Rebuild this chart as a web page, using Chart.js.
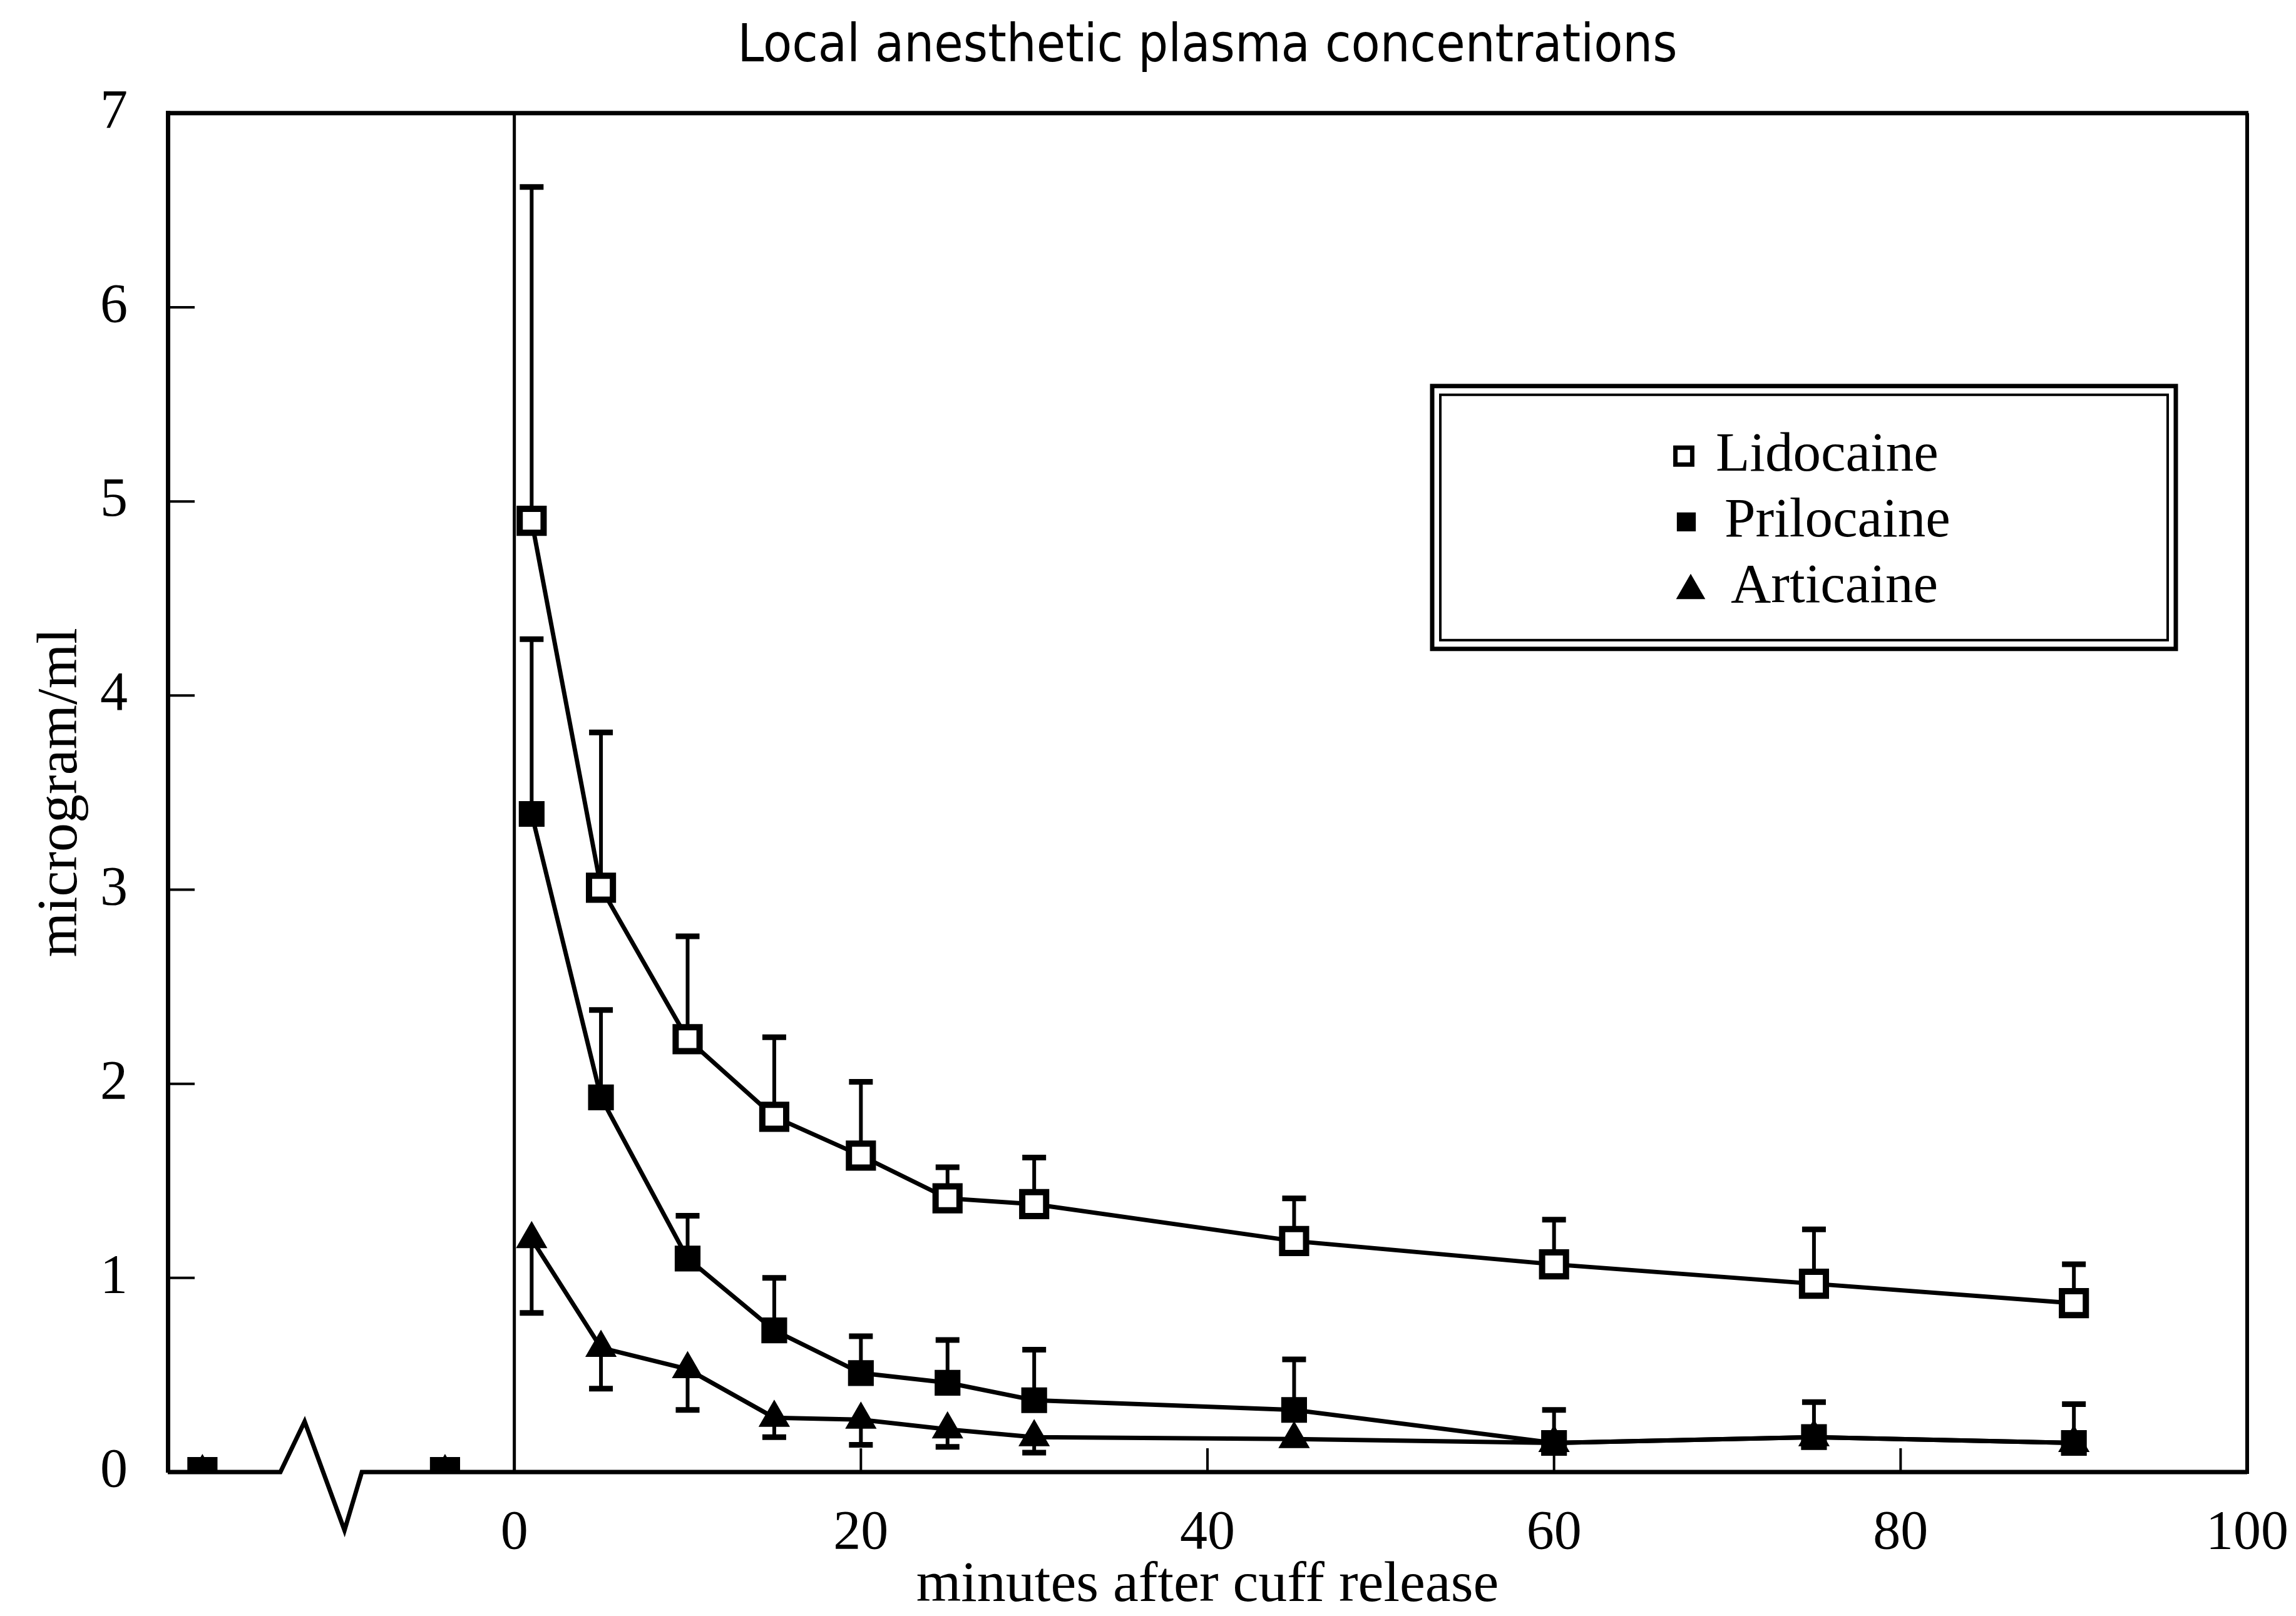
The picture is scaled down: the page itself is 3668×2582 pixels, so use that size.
<!DOCTYPE html>
<html><head><meta charset="utf-8">
<script src="https://cdn.jsdelivr.net/npm/chart.js@4/dist/chart.umd.min.js"></script>
<style>html,body{margin:0;padding:0;background:#fff}#wrap{width:3668px;height:2582px;position:relative}</style>
</head><body><div id="wrap"><canvas id="c"></canvas></div>
<script>
// ---- data ----
const minutes = [-18, -4, 1, 5, 10, 15, 20, 25, 30, 45, 60, 75, 90];
const lidocaine = [0, 0, 4.90, 3.01, 2.23, 1.83, 1.63, 1.41, 1.38, 1.19, 1.07, 0.97, 0.87];
const lidocaineErrUp = [null, null, 6.62, 3.81, 2.76, 2.24, 2.01, 1.57, 1.62, 1.41, 1.30, 1.25, 1.07];
const prilocaine = [0, 0, 3.39, 1.93, 1.10, 0.73, 0.51, 0.46, 0.37, 0.32, 0.15, 0.18, 0.15];
const prilocaineErrUp = [null, null, 4.29, 2.38, 1.32, 1.00, 0.70, 0.68, 0.63, 0.58, 0.32, 0.36, 0.35];
const articaine = [0, 0, 1.20, 0.64, 0.53, 0.28, 0.27, 0.22, 0.18, 0.17, 0.15, 0.18, 0.15];
const articaineErrDown = [null, null, 0.82, 0.43, 0.32, 0.18, 0.14, 0.13, 0.10, null, null, null, null];
const seriesLabels = ['Lidocaine', 'Prilocaine', 'Articaine'];
const xTickValues = [0, 20, 40, 60, 80, 100];
const yTickValues = [0, 1, 2, 3, 4, 5, 6, 7];
const axisBreakX = [-20, -13.5, -12.1, -9.8, -8.8, 100];
const axisBreakY = [0, 0, 0.26, -0.30, 0, 0];
const cuffReleaseX = 0;
const titleText = 'Local anesthetic plasma concentrations';
const xTitle = 'minutes after cuff release';
const yTitle = 'microgram/ml';

const SERIF = "'Liberation Serif', 'Times New Roman', serif";
const NARROW = "'Liberation Sans Narrow', 'DejaVu Sans Condensed', 'Liberation Sans', sans-serif";

const pts = vals => minutes.map((m, i) => ({x: m, y: vals[i]}));
const noPreLine = {borderColor: c => (c.p0.parsed.x < 0 ? 'rgba(0,0,0,0)' : undefined)};

const errSpecs = [
  {ds: 0, vals: lidocaineErrUp},
  {ds: 1, vals: prilocaineErrUp},
  {ds: 2, vals: articaineErrDown}
];

function drawMarker(ctx, style, x, y, r, fill, bw) {
  ctx.beginPath();
  if (style === 'triangle') {
    ctx.moveTo(x, y - r);
    ctx.lineTo(x + r * Math.sin(Math.PI * 2 / 3), y - r * Math.cos(Math.PI * 2 / 3));
    ctx.lineTo(x + r * Math.sin(Math.PI * 4 / 3), y - r * Math.cos(Math.PI * 4 / 3));
    ctx.closePath();
  } else {
    const s = r * Math.SQRT1_2;
    ctx.rect(x - s, y - s, 2 * s, 2 * s);
  }
  ctx.fillStyle = fill; ctx.fill();
  if (bw) { ctx.lineWidth = bw; ctx.strokeStyle = '#000'; ctx.stroke(); }
}

const decor = {
  id: 'decor',
  beforeDatasetsDraw(chart) {
    const {ctx, chartArea: a, scales: {x, y}} = chart;
    ctx.save();
    ctx.strokeStyle = '#000';
    ctx.lineCap = 'butt';
    // frame top and right
    ctx.lineWidth = 7;
    ctx.beginPath(); ctx.moveTo(a.left - 3, a.top); ctx.lineTo(a.right + 2, a.top); ctx.stroke();
    ctx.lineWidth = 6;
    ctx.beginPath(); ctx.moveTo(a.right, a.top); ctx.lineTo(a.right, a.bottom + 3); ctx.stroke();
    // cuff release line
    const cx = x.getPixelForValue(cuffReleaseX);
    ctx.lineWidth = 5;
    ctx.beginPath(); ctx.moveTo(cx, a.top); ctx.lineTo(cx, a.bottom); ctx.stroke();
    // inward ticks
    ctx.lineWidth = 4;
    y.ticks.forEach(t => {
      if (t.value <= y.min || t.value >= y.max) return;
      const py = y.getPixelForValue(t.value);
      ctx.beginPath(); ctx.moveTo(a.left, py); ctx.lineTo(a.left + 43, py); ctx.stroke();
    });
    x.ticks.forEach(t => {
      if (t.value <= 0 || t.value >= x.max) return;
      const px = x.getPixelForValue(t.value);
      ctx.beginPath(); ctx.moveTo(px, a.bottom); ctx.lineTo(px, a.bottom - 38); ctx.stroke();
    });
    // error bars
    errSpecs.forEach(spec => {
      const meta = chart.getDatasetMeta(spec.ds);
      spec.vals.forEach((v, i) => {
        if (v === null) return;
        const el = meta.data[i];
        const py = y.getPixelForValue(v);
        ctx.lineWidth = 6;
        ctx.beginPath(); ctx.moveTo(el.x, el.y); ctx.lineTo(el.x, py); ctx.stroke();
        ctx.lineWidth = 9;
        ctx.beginPath(); ctx.moveTo(el.x - 19, py); ctx.lineTo(el.x + 19, py); ctx.stroke();
      });
    });
    ctx.restore();
  },
  afterDraw(chart) {
    const {ctx, chartArea: a} = chart;
    ctx.save();
    // legend box (double border)
    const L = a.left + 2020, T = a.top + 436, W = 1188, H = 420;
    ctx.fillStyle = '#fff';
    ctx.fillRect(L, T, W, H);
    ctx.strokeStyle = '#000';
    ctx.lineWidth = 7; ctx.strokeRect(L, T, W, H);
    ctx.lineWidth = 4; ctx.strokeRect(L + 13, T + 14, W - 26, H - 28);
    const entries = [
      {style: 'rect', r: 19, fill: '#fff', bw: 7, mx: L + 402, tx: L + 453},
      {style: 'rect', r: 20, fill: '#000', bw: 2, mx: L + 406, tx: L + 467},
      {style: 'triangle', r: 27, fill: '#000', bw: 0, mx: L + 413, tx: L + 477}
    ];
    ctx.font = '89px ' + SERIF;
    ctx.textBaseline = 'middle';
    ctx.textAlign = 'left';
    entries.forEach((e, i) => {
      const cy = T + 112 + i * 105;
      drawMarker(ctx, e.style, e.mx, cy + (e.style === 'triangle' ? 5 : 0), e.r, e.fill, e.bw);
      ctx.fillStyle = '#000';
      ctx.fillText(chart.data.datasets[i].label, e.tx, cy);
    });
    ctx.restore();
  }
};

const ctx = document.getElementById('c');
new Chart(ctx, {
  type: 'line',
  data: {
    datasets: [
      {label: seriesLabels[0], data: pts(lidocaine), borderColor: '#000', borderWidth: 7,
       pointStyle: 'rect', pointRadius: 27, pointBorderWidth: 10, pointBackgroundColor: '#fff',
       pointBorderColor: '#000', segment: noPreLine, tension: 0, order: 1},
      {label: seriesLabels[1], data: pts(prilocaine), borderColor: '#000', borderWidth: 7,
       pointStyle: 'rect', pointRadius: 27, pointBorderWidth: 3, pointBackgroundColor: '#000',
       pointBorderColor: '#000', segment: noPreLine, tension: 0, order: 0},
      {label: seriesLabels[2], data: pts(articaine), borderColor: '#000', borderWidth: 7,
       pointStyle: 'triangle', pointRadius: 27, pointBorderWidth: 2, pointBackgroundColor: '#000',
       pointBorderColor: '#000', segment: noPreLine, tension: 0, order: 2},
      {label: 'axis', data: axisBreakX.map((v, i) => ({x: v, y: axisBreakY[i]})), borderColor: '#000',
       borderWidth: 7, pointRadius: 0, clip: false, tension: 0, order: 5, borderJoinStyle: 'miter'}
    ]
  },
  options: {
    responsive: true,
    maintainAspectRatio: false,
    animation: false,
    devicePixelRatio: 1,
    layout: {padding: {left: 0, right: 78, top: 0, bottom: 0}},
    plugins: {
      legend: {display: false},
      tooltip: {enabled: false},
      title: {
        display: true, text: titleText, color: '#000', fullSize: false,
        font: {family: NARROW, size: 84, weight: 'normal', lineHeight: 1.2},
        padding: {top: 26, bottom: 54}
      }
    },
    scales: {
      x: {
        type: 'linear', min: -20, max: 100,
        afterBuildTicks: s => { s.ticks = xTickValues.map(v => ({value: v})); },
        afterFit: s => { s.height = 230; s.paddingLeft = 0; s.paddingRight = 0; },
        grid: {display: true, drawOnChartArea: false, drawTicks: false},
        border: {display: false},
        ticks: {color: '#000', padding: 46, maxRotation: 0, autoSkip: false,
                font: {family: SERIF, size: 88}},
        title: {display: true, text: xTitle, color: '#000',
                font: {family: SERIF, size: 92, lineHeight: 1.0}, padding: {top: 0, bottom: 2}}
      },
      y: {
        type: 'linear', min: 0, max: 7,
        afterBuildTicks: s => { s.ticks = yTickValues.map(v => ({value: v})); },
        afterFit: s => { s.width = 268; },
        grid: {display: true, drawOnChartArea: false, drawTicks: false},
        border: {display: true, color: '#000', width: 7},
        ticks: {color: '#000', padding: 64, font: {family: SERIF, size: 88}},
        title: {display: true, text: yTitle, color: '#000',
                font: {family: SERIF, size: 92, lineHeight: 1.0}, padding: {top: 52, bottom: 0}}
      }
    }
  },
  plugins: [decor]
});
</script>
</body></html>
